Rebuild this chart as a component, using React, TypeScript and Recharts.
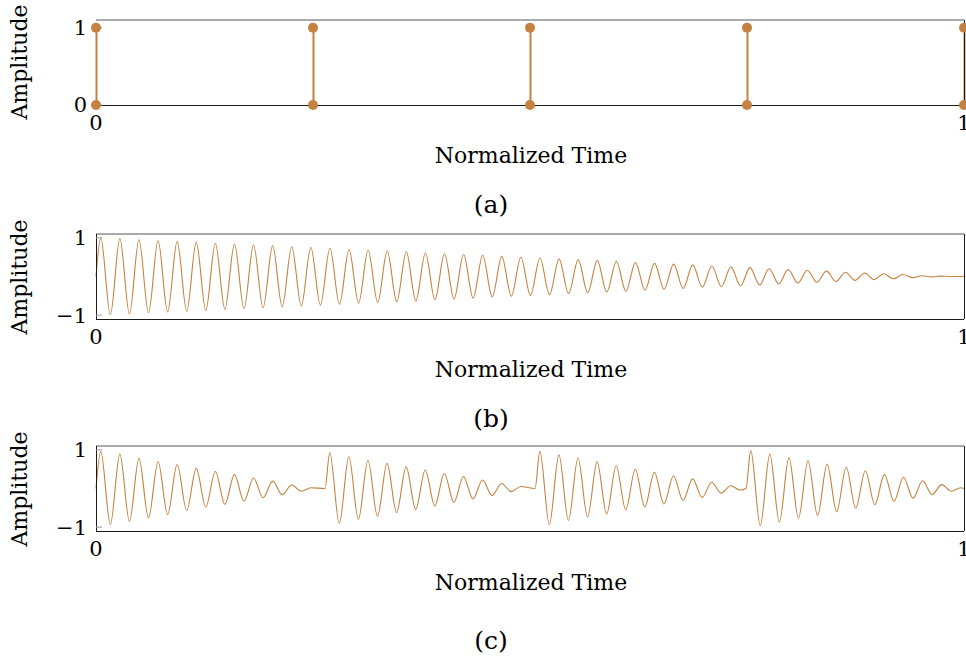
import React from "react";
import { ComposedChart, Line, Bar, XAxis, YAxis, ReferenceLine } from "recharts";

const COLOR = "#C4813F";
const AXIS = "#1a1a1a";
const TICK = "#999";
const FONT = '"DejaVu Serif", serif';

const T_TICKS = [0, 1];

// (a) impulse train
const STEM_TIMES = [0, 0.25, 0.5, 0.75, 1];
const STEM_HEIGHTS = [1, 1, 1, 1, 1];

// spacing between successive peaks/troughs of the oscillations (normalized time)
const HALF_PERIOD = 0.011;

// (b) one long decaying oscillation: peak / trough values in order
const B_EXTREMA = [
  1.0, -0.99, 0.98, -0.97, 0.95, -0.94, 0.93, -0.92, 0.91, -0.9,
  0.89, -0.88, 0.86, -0.85, 0.84, -0.83, 0.82, -0.81, 0.8, -0.78,
  0.77, -0.76, 0.75, -0.74, 0.73, -0.72, 0.7, -0.69, 0.68, -0.67,
  0.66, -0.65, 0.64, -0.63, 0.61, -0.6, 0.59, -0.58, 0.57, -0.56,
  0.55, -0.53, 0.52, -0.51, 0.5, -0.49, 0.48, -0.47, 0.45, -0.44,
  0.43, -0.42, 0.41, -0.4, 0.39, -0.38, 0.36, -0.35, 0.34, -0.33,
  0.32, -0.31, 0.3, -0.28, 0.27, -0.26, 0.25, -0.24, 0.23, -0.22,
  0.2, -0.19, 0.18, -0.17, 0.16, -0.15, 0.14, -0.13, 0.11, -0.1,
  0.09, -0.08, 0.07, -0.06, 0.05, -0.03, 0.02, -0.01, 0.01, 0.0,
];

// (c) four short bursts
const C_BURST_STARTS = [0, 0.2638, 0.5058, 0.7488];
const C_BURST_1 = [0.96, -0.93, 0.89, -0.85, 0.78, -0.76, 0.7, -0.67, 0.62, -0.57, 0.52, -0.48, 0.44, -0.41, 0.36, -0.33, 0.27, -0.24, 0.19, -0.16, 0.09, -0.07, 0.02];
const C_BURST_2 = [0.93, -0.9, 0.82, -0.8, 0.73, -0.72, 0.65, -0.62, 0.56, -0.54, 0.48, -0.45, 0.39, -0.36, 0.31, -0.27, 0.22, -0.18, 0.13, -0.08, 0.05];
const C_BURST_3 = [0.96, -0.93, 0.87, -0.83, 0.79, -0.74, 0.69, -0.66, 0.59, -0.55, 0.5, -0.48, 0.42, -0.4, 0.33, -0.31, 0.25, -0.23, 0.16, -0.12, 0.07, -0.04];
const C_BURST_4 = [0.98, -0.96, 0.89, -0.87, 0.8, -0.77, 0.72, -0.7, 0.63, -0.6, 0.55, -0.51, 0.46, -0.42, 0.36, -0.33, 0.29, -0.25, 0.2, -0.16, 0.1, -0.07, 0.02];
const C_BURSTS = [C_BURST_1, C_BURST_2, C_BURST_3, C_BURST_4];

type Pt = { t: number; v: number };

function burstRows(start: number, extrema: number[]): Pt[] {
  const rows: Pt[] = [{ t: start, v: 0 }];
  extrema.forEach((v, k) => rows.push({ t: start + HALF_PERIOD * (k + 0.5), v }));
  return rows;
}

const stemData = STEM_TIMES.map((t, i) => ({ t, top: STEM_HEIGHTS[i], base: 0 }));
const bData: Pt[] = [...burstRows(0, B_EXTREMA), { t: 1, v: 0 }];
const cData: Pt[] = [
  ...C_BURST_STARTS.flatMap((s, i) => burstRows(s, C_BURSTS[i])),
  { t: 1, v: 0 },
];

const fmt = (v: number) => (v < 0 ? `\u2212${Math.abs(v)}` : `${v}`);
const tickStyle = { fill: "#000", fontSize: 21, fontFamily: FONT };
const lineStyle = { stroke: AXIS, shapeRendering: "crispEdges" };

// leftLine: the stem at t = 0 in (a) covers the left edge, so no frame line there
function axes(domain: [number, number], ticks: number[], leftLine = true) {
  return [
    <XAxis key="x" dataKey="t" type="number" domain={[0, 1]} ticks={T_TICKS} interval={0}
      tickSize={0} tickMargin={10} height={35} axisLine={lineStyle} tickLine={false} tick={tickStyle} />,
    <YAxis key="yl" yAxisId="l" type="number" domain={domain} ticks={ticks} interval={0} width={96}
      tickSize={-6} tickMargin={15} axisLine={leftLine ? lineStyle : false} tickLine={{ stroke: TICK }}
      tick={tickStyle} tickFormatter={fmt} />,
    <YAxis key="yr" yAxisId="r" orientation="right" type="number" domain={domain} ticks={ticks} interval={0}
      width={2} tickSize={-6} tickMargin={0} axisLine={lineStyle} tickLine={{ stroke: TICK }}
      tickFormatter={() => ""} />,
    <ReferenceLine key="top" yAxisId="l" y={domain[1]} stroke="#555" />,
  ];
}

const MARGIN = { top: 20, right: 0, bottom: 0, left: 0 };

const abs = (x: number, y: number, size: number, extra: React.CSSProperties = {}): React.CSSProperties => ({
  position: "absolute",
  left: x,
  top: y,
  transform: "translate(-50%, -50%)",
  fontFamily: FONT,
  fontSize: size,
  lineHeight: 1,
  whiteSpace: "nowrap",
  color: "#000",
  ...extra,
});

const PANELS = [
  { top: 0, amp: 62, time: 156, cap: 204, label: "(a)" },
  { top: 214, amp: 277, time: 370, cap: 418, label: "(b)" },
  { top: 426, amp: 489, time: 583, cap: 640, label: "(c)" },
];

export default function App() {
  return (
    <div style={{ position: "fixed", left: 0, top: 0, width: 966, height: 663, overflow: "hidden", background: "#fff" }}>
      <div style={{ position: "absolute", left: 0, top: PANELS[0].top }}>
        <ComposedChart width={966} height={140} data={stemData} margin={MARGIN}>
          {axes([0, 1.1], [0, 1], false)}
          <Bar yAxisId="l" dataKey="top" barSize={2} fill={COLOR} isAnimationActive={false} />
          <Line yAxisId="l" dataKey="top" stroke="none" dot={{ r: 5, fill: COLOR, stroke: "none" }}
            activeDot={false} isAnimationActive={false} />
          <Line yAxisId="l" dataKey="base" stroke="none" dot={{ r: 5, fill: COLOR, stroke: "none" }}
            activeDot={false} isAnimationActive={false} />
        </ComposedChart>
      </div>
      <div style={{ position: "absolute", left: 0, top: PANELS[1].top }}>
        <ComposedChart width={966} height={140} data={bData} margin={MARGIN}>
          {axes([-1.1, 1.1], [-1, 1])}
          <Line yAxisId="l" type="monotone" dataKey="v" stroke={COLOR} strokeWidth={1.1} dot={false}
            activeDot={false} isAnimationActive={false} />
        </ComposedChart>
      </div>
      <div style={{ position: "absolute", left: 0, top: PANELS[2].top }}>
        <ComposedChart width={966} height={140} data={cData} margin={MARGIN}>
          {axes([-1.1, 1.1], [-1, 1])}
          <Line yAxisId="l" type="monotone" dataKey="v" stroke={COLOR} strokeWidth={1.1} dot={false}
            activeDot={false} isAnimationActive={false} />
        </ComposedChart>
      </div>
      {PANELS.map((p) => (
        <React.Fragment key={p.label}>
          <div style={abs(20, p.amp, 22, { transform: "translate(-50%, -50%) rotate(-90deg)" })}>Amplitude</div>
          <div style={abs(531, p.time, 22)}>Normalized Time</div>
          <div style={abs(491, p.cap, 25)}>{p.label}</div>
        </React.Fragment>
      ))}
    </div>
  );
}
